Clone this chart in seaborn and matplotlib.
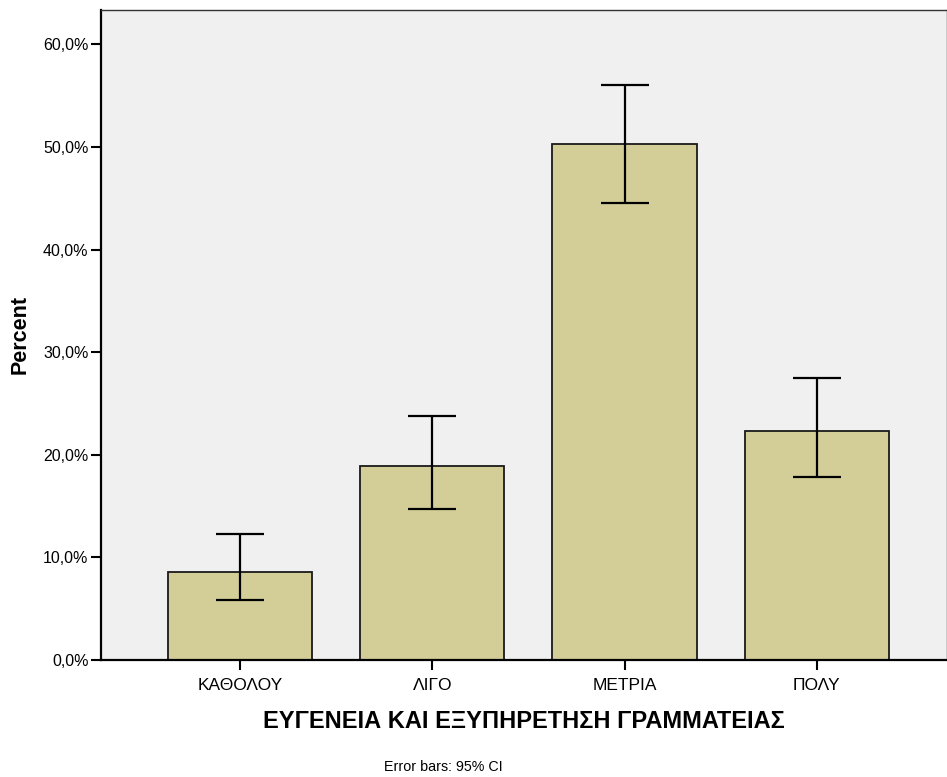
import matplotlib
matplotlib.use("Agg")
import matplotlib.pyplot as plt
import numpy as np
import pandas as pd
import seaborn as sns
from matplotlib.ticker import FuncFormatter

# %% data
categories = ["ΚΑΘΟΛΟΥ", "ΛΙΓΟ", "ΜΕΤΡΙΑ", "ΠΟΛΥ"]
percent = [8.6, 18.9, 50.3, 22.3]
ci_low = [5.8, 14.75, 44.55, 17.85]
ci_high = [12.25, 23.8, 56.05, 27.45]

df = pd.DataFrame({"category": categories, "percent": percent})

# %% plot
sns.set_theme(style="white")
plt.rcParams["font.family"] = ["Liberation Sans", "DejaVu Sans"]
plt.rcParams["text.color"] = "black"
plt.rcParams["axes.labelcolor"] = "black"

fig = plt.figure(figsize=(9.47, 7.77), dpi=100)
ax = fig.add_axes([101 / 947, 117 / 777, 846 / 947, 650 / 777])
ax.set_facecolor("#f0f0f0")

sns.barplot(
    data=df,
    x="category",
    y="percent",
    color="#d3ce98",
    saturation=1,
    width=0.75,
    edgecolor="#1a1a1a",
    linewidth=1.3,
    errorbar=None,
    ax=ax,
)

mid = np.array(percent)
yerr = [mid - np.array(ci_low), np.array(ci_high) - mid]
ax.errorbar(
    x=np.arange(len(categories)),
    y=mid,
    yerr=yerr,
    fmt="none",
    ecolor="black",
    elinewidth=1.6,
    capsize=17.5,
    capthick=1.6,
)

ax.set_xlim(-0.723, 3.677)
ax.set_ylim(0, 63.35)
ax.set_yticks(np.arange(0, 61, 10))
ax.yaxis.set_major_formatter(FuncFormatter(lambda v, p: f"{v:.1f}%".replace(".", ",")))

ax.tick_params(axis="both", direction="out", length=7, width=1.5, color="black",
               labelcolor="black", left=True, bottom=True)
ax.tick_params(axis="y", labelsize=11.5, pad=2)
ax.tick_params(axis="x", labelsize=12.5, pad=6)

for side in ["left", "bottom"]:
    ax.spines[side].set_color("black")
    ax.spines[side].set_linewidth(1.6)
for side in ["top", "right"]:
    ax.spines[side].set_color("#333333")
    ax.spines[side].set_linewidth(1.0)

ax.set_xlabel("ΕΥΓΕΝΕΙΑ ΚΑΙ ΕΞΥΠΗΡΕΤΗΣΗ ΓΡΑΜΜΑΤΕΙΑΣ", fontsize=17,
              fontweight="bold", labelpad=12)
ax.set_ylabel("Percent", fontsize=15.5, fontweight="bold", labelpad=9)

fig.text(443 / 947, 1 - 767 / 777, "Error bars: 95% CI", fontsize=10.3,
         ha="center", va="center")

fig.savefig("out.png", dpi=100)
